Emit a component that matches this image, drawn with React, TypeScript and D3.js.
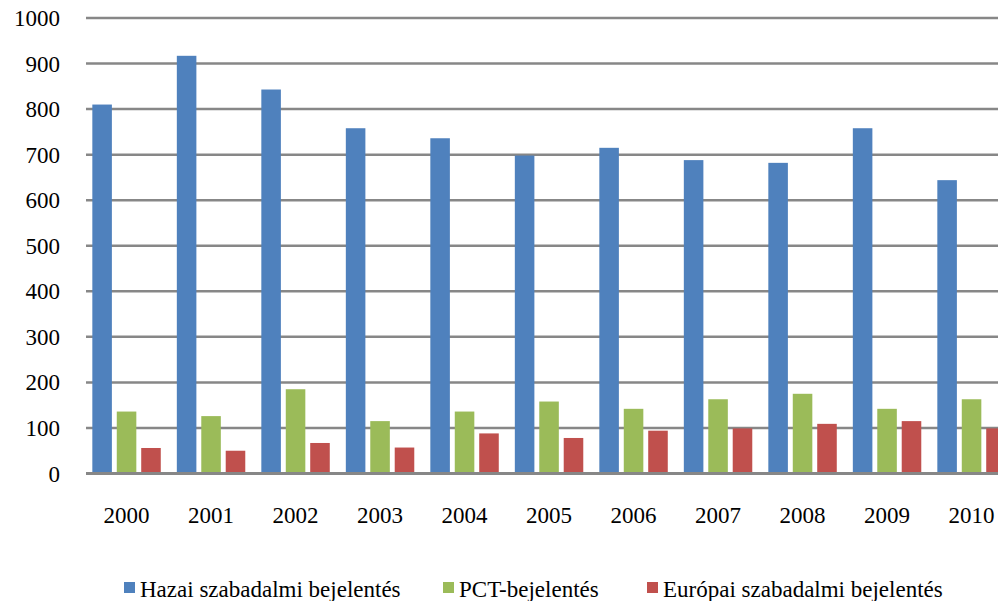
import React from "react";
import * as d3 from "d3";

const years = ["2000","2001","2002","2003","2004","2005","2006","2007","2008","2009","2010"];
const hazai = [810, 917, 843, 758, 736, 698, 715, 688, 682, 758, 644];
const pct = [136, 126, 185, 115, 136, 158, 142, 163, 175, 142, 163];
const europai = [56, 50, 67, 57, 88, 78, 94, 99, 109, 115, 99];
const seriesNames = ["Hazai szabadalmi bejelentés", "PCT-bejelentés", "Európai szabadalmi bejelentés"];
const seriesColors = ["#4F81BD", "#9BBB59", "#C0504D"];
const yTicks = [0, 100, 200, 300, 400, 500, 600, 700, 800, 900, 1000];

const W = 998, H = 601;

export default function App() {
  const data = [hazai, pct, europai];
  const x = d3.scaleBand<string>().domain(years).range([84.3, 84.3 + 11 * 84.5]).paddingInner(0.19).paddingOuter(0.095);
  const xs = d3.scaleBand<string>().domain(seriesNames).range([0, x.bandwidth()]).paddingInner(0.2).paddingOuter(0);
  const y = d3.scaleLinear().domain([0, 1000]).range([473.5, 18]);
  const ts: React.CSSProperties = { fontFamily: '"Liberation Serif", "DejaVu Serif", serif', fontSize: 23 };
  const legendX = [124, 443, 647];
  return (
    <svg width={W} height={H} style={{ position: "absolute", left: 0, top: 0, background: "#fff" }}>
      {yTicks.map((t) => (
        <g key={t}>
          <line x1={86} x2={W} y1={y(t)} y2={y(t)} stroke="#878787" strokeWidth={t === 0 ? 3 : 2.5} />
          <text x={60} y={y(t)} dy="0.35em" textAnchor="end" style={ts} fill="#000">{t}</text>
        </g>
      ))}
      {years.map((yr, i) => (
        <g key={yr} transform={`translate(${x(yr)},0)`}>
          {data.map((s, j) => (
            <rect key={j} x={xs(seriesNames[j])} y={y(s[i])} width={xs.bandwidth()} height={y(0) - y(s[i]) - 1.5} fill={seriesColors[j]} />
          ))}
          <text x={x.bandwidth() / 2} y={523} textAnchor="middle" style={ts} fill="#000">{yr}</text>
        </g>
      ))}
      {seriesNames.map((n, j) => (
        <g key={n} transform={`translate(${legendX[j]},0)`}>
          <rect x={0} y={582} width={11} height={11} fill={seriesColors[j]} />
          <text x={16} y={597} style={ts} fill="#000">{n}</text>
        </g>
      ))}
    </svg>
  );
}
